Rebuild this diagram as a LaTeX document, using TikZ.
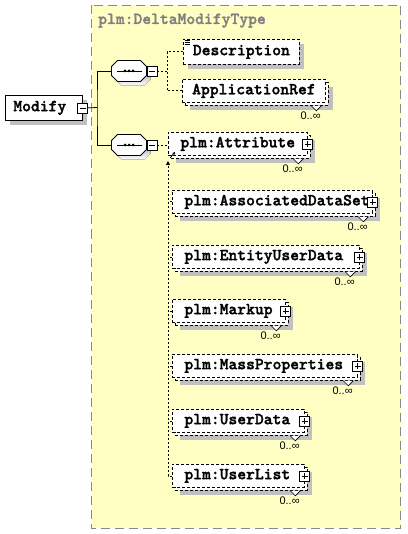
\documentclass[tikz,border=0pt]{standalone}
\usepackage{fontspec}
\usetikzlibrary{arrows.meta,positioning,shadows}
\newfontfamily\occursfont{Liberation Sans}
\newfontfamily\xsdfont{lmmonolt10-bold.otf}[FakeBold=1.6]
\definecolor{typefill}{HTML}{FFFFC4}
\definecolor{typeborder}{HTML}{8A8A8A}
\definecolor{typetext}{HTML}{808080}
\definecolor{shade}{HTML}{C0C0C0}

\begin{document}
\begin{tikzpicture}[
    x=1pt, y=-1pt,
    every node/.style={font=\xsdfont\fontsize{16.8}{18}\selectfont},
    boxshadow/.style={drop shadow={shadow xshift=5pt, shadow yshift=-5pt, fill=shade, opacity=1}},
    rootbox/.style={draw, fill=white, line width=0.8pt, anchor=north west, minimum width=77pt,
        minimum height=25pt, inner xsep=8pt, inner ysep=0pt, text width=61pt, align=left, boxshadow},
    elembox/.style={draw, fill=white, line width=0.8pt, dash pattern=on 3pt off 2pt,
        anchor=north west, minimum height=#1, inner xsep=9pt, inner ysep=0pt, align=left},
    singlebox/.style={elembox=25pt, boxshadow},
    backbox/.style={elembox=23pt, boxshadow},
    frontbox/.style={elembox=23pt},
    seqbox/.style={minimum width=35pt, minimum height=21pt, inner sep=0pt},
    expander/.style={draw, fill=white, line width=0.7pt, minimum size=10pt, inner sep=0pt},
    minusbox/.style={expander, path picture={
        \draw (path picture bounding box.center) +(-3pt,0) -- +(3pt,0);}},
    plusbox/.style={expander, path picture={
        \draw (path picture bounding box.center) +(-3pt,0) -- +(3pt,0)
              (path picture bounding box.center) +(0,-3pt) -- +(0,3pt);}},
    tree/.style={line width=0.8pt},
    optline/.style={line width=0.8pt, dash pattern=on 2pt off 2pt},
    subline/.style={line width=0.8pt, dash pattern=on 2pt off 2pt},
    notch/.style={line width=0.6pt, fill=white},
    occurs/.style={font=\occursfont\fontsize{11}{12}\selectfont, inner sep=0pt, anchor=north east},
    typename/.style={text=typetext, anchor=base west, inner sep=0pt},
]

\useasboundingbox (0,0) rectangle (407,534);

% Complex type area
\draw[fill=typefill, draw=typeborder, line width=1pt, dash pattern=on 9pt off 5pt]
    (91.5,5.5) rectangle (400.5,528);
\node[typename] (typelabel) at (98,24) {plm:DeltaModifyType};

% Root element
\node[rootbox] (modify) at (5,95) {Modify};
\node[minusbox] (modifym) at (modify.east) {};

% Sequences
\node[seqbox] (seqA) at (129,71) {};
\node[seqbox] (seqB) at (129,145) {};
\foreach \s in {seqA, seqB} {
    \fill[shade, shift={(\s.center)}, shift={(4,4)}]
        (-11.5,-10.5) -- (11.5,-10.5) -- (17.5,-4.5) -- (17.5,4.5) -- (11.5,10.5)
        -- (-11.5,10.5) -- (-17.5,4.5) -- (-17.5,-4.5) -- cycle;
    \draw[line width=0.8pt, fill=white, shift={(\s.center)}]
        (-11.5,-10.5) -- (11.5,-10.5) -- (17.5,-4.5) -- (17.5,4.5) -- (11.5,10.5)
        -- (-11.5,10.5) -- (-17.5,4.5) -- (-17.5,-4.5) -- cycle;
    \draw[line width=0.8pt] (\s.center) +(-12.5,0) -- +(12.5,0);
    \foreach \dx in {-4,0,4} {
        \fill (\s.center) ++(\dx,0) circle (1.5pt);
    }
}
\node[minusbox, right=0pt of seqA] (seqAm) {};
\node[minusbox, right=0pt of seqB] (seqBm) {};

\coordinate (bus) at (97,107.5);
\draw[tree] (modifym.east) -- (bus);
\draw[tree] (seqA.west) -| (bus) |- (seqB.west);

% First sequence: Description, ApplicationRef
\node[singlebox, minimum width=116pt] (desc) at (183,39) {Description};
\foreach \dy in {1,3,5} {
    \draw[line width=0.6pt] (desc.north west) ++(1.5,\dy) -- ++(5.5,0);
}
\node[backbox, minimum width=143pt] (apprefback) at (185,82) {};
\node[frontbox, minimum width=143pt] (appref) at (182,79) {ApplicationRef};
\draw[notch] (apprefback.south east) ++(-17.5,0) -- ++(5,5) -- ++(5,-5);
\node[occurs] (apprefocc) at ([xshift=-8pt, yshift=-6pt]apprefback.south east) {0..∞};

\coordinate (splitA) at (167,71);
\draw[optline] (seqAm.east) -- (splitA);
\draw[optline] (desc.west) -| (splitA) |- (appref.west);

% Second sequence: substitution group of plm:Attribute
\foreach \nm/\txt/\xx/\yy/\ww in {
    attr/plm:Attribute/168/132/139,
    ads/plm:AssociatedDataSet/172/190/200,
    eud/plm:EntityUserData/172/245/187,
    markup/plm:Markup/172/299/113,
    massprop/plm:MassProperties/172/354/185,
    userdata/plm:UserData/172/409/132,
    userlist/plm:UserList/172/464/132%
} {
    \pgfmathsetmacro\tw{\ww-24}
    \node[backbox, minimum width=\ww pt] (\nm back) at (\xx+3,\yy+3) {};
    \node[frontbox, minimum width=\ww pt, text width=\tw pt] (\nm) at (\xx,\yy) {\txt};
    \node[plusbox] (\nm plus) at (\nm.east) {};
    \draw[notch] (\nm back.south east) ++(-17.5,0) -- ++(5,5) -- ++(5,-5);
    \node[occurs] (\nm occ) at ([xshift=-8pt, yshift=-6pt]\nm back.south east) {0..∞};
}

\draw[optline] (seqBm.east) -- (seqBm.east -| attr.west);

\coordinate (subtop) at (168,161);
\draw[subline, -{Triangle[length=4pt, width=4pt]}] (userlist.west) -| (subtop);
\foreach \nm in {ads, eud, markup, massprop, userdata} {
    \draw[subline] (\nm.west) -- (\nm.west -| subtop);
}
\draw[line width=0.7pt, -{Stealth[length=3pt, width=3pt]}] (subtop) ++(2,-3) -- ++(5,-6);

\end{tikzpicture}
\end{document}
